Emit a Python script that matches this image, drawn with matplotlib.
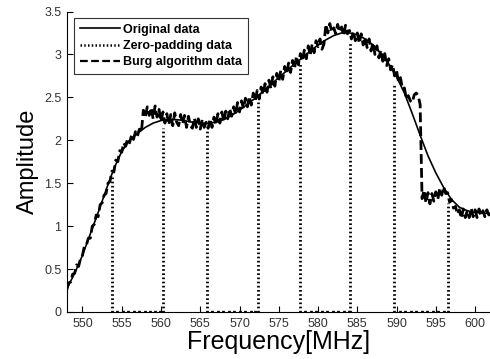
import matplotlib.pyplot as plt
import numpy as np

plt.rcParams['font.family'] = ['Liberation Sans', 'DejaVu Sans']

# original (smooth) spectrum, 1 MHz grid
orig_freq = [548, 549, 550, 551, 552, 553, 554, 555, 556, 557, 558, 559, 560,
             561, 562, 563, 564, 565, 566, 567, 568, 569, 570, 571, 572, 573,
             574, 575, 576, 577, 578, 579, 580, 581, 582, 583, 584, 585, 586,
             587, 588, 589, 590, 591, 592, 593, 594, 595, 596, 597, 598, 599,
             600, 601, 602]
orig_amp = [0.27, 0.45, 0.66, 0.91, 1.16, 1.42, 1.67, 1.87, 2.00, 2.08, 2.15,
            2.20, 2.23, 2.24, 2.24, 2.23, 2.21, 2.20, 2.20, 2.21, 2.24, 2.29,
            2.35, 2.42, 2.49, 2.57, 2.65, 2.73, 2.81, 2.89, 2.96, 3.04, 3.11,
            3.17, 3.22, 3.25, 3.25, 3.23, 3.18, 3.11, 3.01, 2.89, 2.74, 2.55,
            2.31, 2.06, 1.82, 1.62, 1.45, 1.31, 1.22, 1.18, 1.16, 1.15, 1.15]

# Burg algorithm estimate, 0.25 MHz grid (548 .. 602)
burg_amp = [
    0.26, 0.34, 0.35, 0.44,
    0.45, 0.55, 0.53, 0.62,
    0.66, 0.77, 0.78, 0.86,
    0.86, 1.00, 1.02, 1.13,
    1.11, 1.25, 1.27, 1.36,
    1.38, 1.50, 1.52, 1.64,
    1.63, 1.77, 1.75, 1.88,
    1.86, 1.97, 1.93, 2.02,
    1.97, 2.06, 2.01, 2.10,
    2.05, 2.13, 2.09, 2.35,
    2.27, 2.39, 2.29, 2.38,
    2.25, 2.40, 2.27, 2.36,
    2.22, 2.33, 2.20, 2.31,
    2.18, 2.30, 2.17, 2.32,
    2.21, 2.17, 2.30, 2.19,
    2.29, 2.15, 2.28, 2.17,
    2.14, 2.26, 2.15, 2.25,
    2.13, 2.24, 2.15, 2.21,
    2.14, 2.25, 2.15, 2.27,
    2.18, 2.31, 2.20, 2.33,
    2.22, 2.34, 2.25, 2.37,
    2.28, 2.39, 2.30, 2.44,
    2.33, 2.46, 2.37, 2.49,
    2.39, 2.51, 2.41, 2.55,
    2.46, 2.58, 2.48, 2.62,
    2.53, 2.66, 2.56, 2.70,
    2.60, 2.74, 2.63, 2.78,
    2.68, 2.81, 2.71, 2.86,
    2.77, 2.90, 2.79, 2.93,
    2.83, 2.98, 2.88, 3.01,
    2.92, 3.05, 2.95, 3.10,
    2.99, 3.12, 3.02, 3.16,
    3.09, 3.18, 3.06, 3.12,
    3.35, 3.25, 3.36, 3.26,
    3.31, 3.24, 3.35, 3.26,
    3.32, 3.22, 3.34, 3.24,
    3.28, 3.18, 3.27, 3.16,
    3.25, 3.13, 3.24, 3.11,
    3.20, 3.08, 3.18, 3.04,
    3.14, 3.00, 3.10, 2.96,
    3.05, 2.92, 3.01, 2.87,
    2.95, 2.82, 2.88, 2.75,
    2.81, 2.68, 2.73, 2.60,
    2.61, 2.48, 2.52, 2.46,
    2.44, 2.53, 2.55, 2.52,
    2.42, 1.32, 1.42, 1.27,
    1.39, 1.26, 1.38, 1.29,
    1.40, 1.31, 1.44, 1.36,
    1.46, 1.38, 1.39, 1.28,
    1.31, 1.21, 1.23, 1.14,
    1.19, 1.09, 1.20, 1.10,
    1.18, 1.10, 1.21, 1.11,
    1.19, 1.10, 1.20, 1.12,
    1.18, 1.11, 1.19, 1.13,
    1.15,
]
burg_freq = np.linspace(548, 602, len(burg_amp))

# zero-padding samples
zp_freq = [553.7, 560.2, 565.8, 572.3, 577.7, 584.1, 589.7, 596.5]
zp_amp = [1.60, 2.14, 2.12, 2.47, 2.90, 3.14, 2.64, 1.27]
zp_small_freq = [554.4, 555.1, 555.8, 556.5, 557.2, 557.9, 558.6, 559.3, 559.9,
                 566.5, 567.2, 567.9, 568.6, 569.3, 570.0, 570.7, 571.4, 572.0,
                 578.4, 579.1, 579.8, 580.5, 581.2, 581.9, 582.6, 583.3, 583.9,
                 590.4, 591.1, 591.8, 592.5, 593.2, 593.9, 594.6, 595.3, 596.1]
zp_small_amp = [0.02, 0.03, 0.02, 0.02, 0.02, 0.02, 0.02, 0.02, 0.04,
                0.03, 0.02, 0.02, 0.02, 0.02, 0.03, 0.02, 0.03, 0.04,
                0.03, 0.02, 0.03, 0.02, 0.02, 0.02, 0.03, 0.02, 0.04,
                0.03, 0.02, 0.02, 0.02, 0.02, 0.02, 0.03, 0.02, 0.04]

fig = plt.figure(figsize=(4.9, 3.59), dpi=100)
ax = fig.add_axes([67 / 490, 47 / 359, 423 / 490, 300.5 / 359])

dot = (0, (0.6, 0.9))
ax.plot(orig_freq, orig_amp, color='black', lw=1.2, label='Original data')
ax.vlines(zp_freq, 0, zp_amp, color='black', lw=2.0, linestyles=[dot])
ax.vlines(zp_small_freq, 0, zp_small_amp, color='black', lw=2.0, linestyles=[dot])
ax.plot([], [], color='black', lw=1.8, linestyle=dot, label='Zero-padding data')
ax.plot(burg_freq, burg_amp, color='black', lw=2.0, linestyle=(0, (3.5, 1.5)),
        label='Burg algorithm data')

ax.set_xlim(548.03, 601.9)
ax.set_ylim(0, 3.5)
ax.set_xticks(np.arange(550, 601, 5))
ax.set_yticks([0, 0.5, 1, 1.5, 2, 2.5, 3, 3.5])
ax.set_yticklabels(['0', '0.5', '1', '1.5', '2', '2.5', '3', '3.5'])
for s in ['top', 'right']:
    ax.spines[s].set_visible(False)
ax.tick_params(direction='in', length=4, width=0.8, labelsize=9,
               labelcolor='#333333', pad=4)
ax.set_xlabel('Frequency[MHz]', fontsize=18, labelpad=0)
ax.set_ylabel('Amplitude', fontsize=17, labelpad=4)

leg = ax.legend(loc='upper left', bbox_to_anchor=(7 / 423, 294 / 300.5),
                borderaxespad=0, fancybox=False, edgecolor='black',
                prop={'weight': 'bold', 'size': 9}, handlelength=3.2,
                handletextpad=0.3, labelspacing=0.35, borderpad=0.45)
leg.get_frame().set_linewidth(0.8)
leg.legend_handles[2].set_linewidth(1.6)

fig.savefig('out.png', dpi=100)
